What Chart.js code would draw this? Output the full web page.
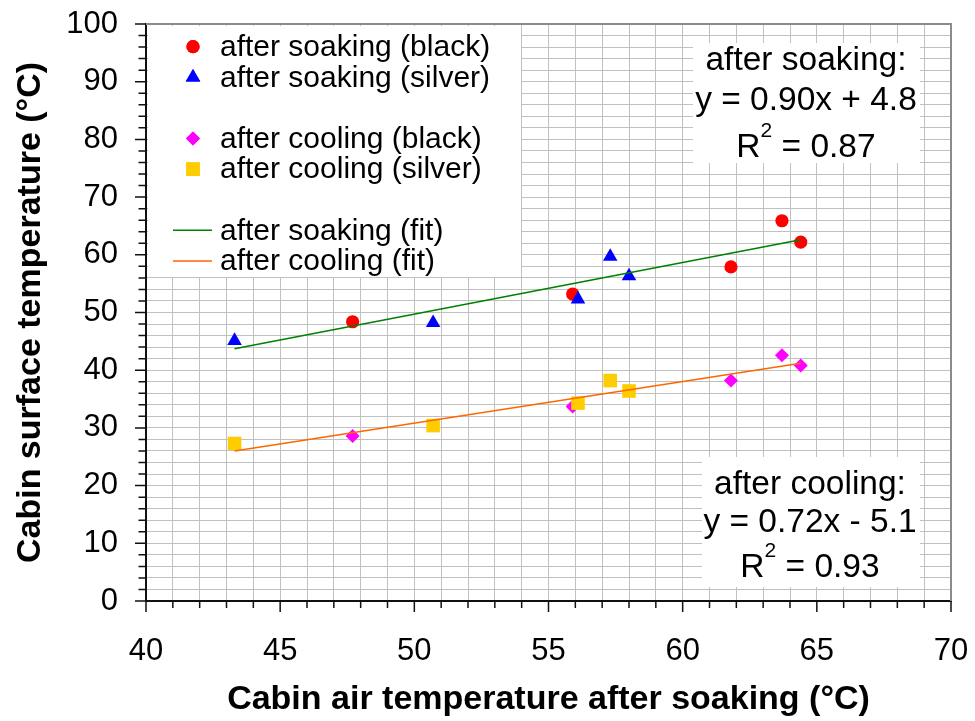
<!DOCTYPE html>
<html>
<head>
<meta charset="utf-8">
<script src="https://cdn.jsdelivr.net/npm/chart.js@4.4.0/dist/chart.umd.min.js"></script>
<style>
  html, body { margin: 0; padding: 0; background: #fff; }
  #wrap { width: 975px; height: 721px; }
</style>
</head>
<body>
<div id="wrap"><canvas id="scatterChart" width="975" height="721"></canvas></div>
<script>
// values
const blackX = [47.7, 55.9, 61.8, 63.7, 64.4];
const soakBlack = [48.4, 53.2, 57.9, 65.9, 62.2];
const coolBlack = [28.6, 33.7, 38.2, 42.6, 40.8];

const silverX = [43.3, 50.7, 56.1, 57.3, 58.0];
const soakSilver = [45.1, 48.2, 52.3, 59.7, 56.3];
const coolSilver = [27.3, 30.4, 34.3, 38.2, 36.4];

// trend line end points
const fitX = [43.3, 64.4];
const soakFit = [43.7, 62.6];
const coolFit = [26.0, 41.2];

const xTicks = [40, 45, 50, 55, 60, 65, 70];
const yTicks = [0, 10, 20, 30, 40, 50, 60, 70, 80, 90, 100];

const seriesLabels = ['after soaking (black)', 'after soaking (silver)', 'after cooling (black)',
    'after cooling (silver)', 'after soaking (fit)', 'after cooling (fit)'];
const soakNote = ['after soaking:', 'y = 0.90x + 4.8', '0.87'];
const coolNote = ['after cooling:', 'y = 0.72x - 5.1', '0.93'];

const FONT = '"Liberation Sans", Arial, sans-serif';

function pts(xs, ys) {
    return xs.map((x, i) => ({ x: x, y: ys[i] }));
}

// white boxes (legend + equations) sit on top of the grid
const boxes = [
    { x: 148, y: 26, w: 373, h: 251 },
    { x: 693, y: 43, w: 227, h: 120 },
    { x: 702, y: 457, w: 218, h: 130 }
];

const overlays = {
    id: 'overlays',
    beforeDatasetsDraw(chart) {
        const ctx = chart.ctx;
        ctx.save();
        ctx.fillStyle = '#fff';
        boxes.forEach(b => ctx.fillRect(b.x, b.y, b.w, b.h));
        ctx.restore();
    },
    afterDraw(chart) {
        const ctx = chart.ctx;
        const area = chart.chartArea;
        const xs = chart.scales.x, ys = chart.scales.y;
        ctx.save();

        // plot area frame on top / right
        ctx.strokeStyle = '#8c8c8c';
        ctx.lineWidth = 2;
        ctx.beginPath();
        ctx.moveTo(area.left, area.top);
        ctx.lineTo(area.right, area.top);
        ctx.lineTo(area.right, area.bottom);
        ctx.stroke();

        // tick marks, major longer than minor
        ctx.strokeStyle = '#111';
        ctx.lineWidth = 1.5;
        ctx.beginPath();
        xs.ticks.forEach(t => {
            const px = xs.getPixelForValue(t.value);
            const len = xTicks.includes(t.value) ? 11 : 7;
            ctx.moveTo(px, area.bottom);
            ctx.lineTo(px, area.bottom + len);
        });
        ys.ticks.forEach(t => {
            const py = ys.getPixelForValue(t.value);
            const len = yTicks.includes(t.value) ? 11 : 7.5;
            ctx.moveTo(area.left, py);
            ctx.lineTo(area.left - len, py);
        });
        ctx.stroke();

        // legend
        const rows = [0, 1, 3, 4, 6, 7];
        ctx.font = '30px ' + FONT;
        ctx.fillStyle = '#000';
        ctx.textBaseline = 'middle';
        ctx.textAlign = 'left';
        chart.data.datasets.forEach((ds, i) => {
            const cy = 46.7 + rows[i] * 30.6;
            if (ds.showLine) {
                ctx.strokeStyle = ds.borderColor;
                ctx.lineWidth = 1.5;
                ctx.beginPath();
                ctx.moveTo(173, cy);
                ctx.lineTo(212, cy);
                ctx.stroke();
            } else {
                ctx.fillStyle = ds.backgroundColor;
                Chart.helpers.drawPoint(ctx, {
                    pointStyle: ds.pointStyle, radius: ds.pointRadius,
                    borderWidth: 0, rotation: 0
                }, 193, cy);
                ctx.fill();
            }
            ctx.fillStyle = '#000';
            ctx.fillText(ds.label, 220, cy + 1);
        });

        // equation notes
        drawNote(ctx, soakNote, 806, [70, 110, 156.5]);
        drawNote(ctx, coolNote, 810, [494, 532, 577]);

        ctx.restore();
    }
};

function drawNote(ctx, lines, cx, baselines) {
    ctx.fillStyle = '#000';
    ctx.textBaseline = 'alphabetic';
    ctx.textAlign = 'center';
    ctx.font = '33.5px ' + FONT;
    ctx.fillText(lines[0], cx, baselines[0]);
    ctx.fillText(lines[1], cx, baselines[1]);
    // R² line with superscript
    ctx.textAlign = 'left';
    const a = 'R', b = ' = ' + lines[2];
    const wa = ctx.measureText(a).width, wb = ctx.measureText(b).width;
    ctx.font = '21px ' + FONT;
    const ws = ctx.measureText('2').width;
    let x = cx - (wa + ws + wb) / 2;
    ctx.font = '33.5px ' + FONT;
    ctx.fillText(a, x, baselines[2]);
    ctx.font = '21px ' + FONT;
    ctx.fillText('2', x + wa, baselines[2] - 20);
    ctx.font = '33.5px ' + FONT;
    ctx.fillText(b, x + wa + ws, baselines[2]);
}

const ctx = document.getElementById('scatterChart').getContext('2d');
new Chart(ctx, {
    type: 'scatter',
    data: {
        datasets: [
            { label: seriesLabels[0], data: pts(blackX, soakBlack), pointStyle: 'circle', pointRadius: 6.6,
              backgroundColor: '#ff0000', borderWidth: 0, order: 6 },
            { label: seriesLabels[1], data: pts(silverX, soakSilver), pointStyle: 'triangle', pointRadius: 8.4,
              backgroundColor: '#0000ff', borderWidth: 0, order: 5 },
            { label: seriesLabels[2], data: pts(blackX, coolBlack), pointStyle: 'rectRot', pointRadius: 7,
              backgroundColor: '#ff00ff', borderWidth: 0, order: 4 },
            { label: seriesLabels[3], data: pts(silverX, coolSilver), pointStyle: 'rect', pointRadius: 9.6,
              backgroundColor: '#ffcc00', borderWidth: 0, order: 3 },
            { label: seriesLabels[4], data: pts(fitX, soakFit), showLine: true, pointRadius: 0,
              borderColor: '#008000', borderWidth: 1.5, order: 2 },
            { label: seriesLabels[5], data: pts(fitX, coolFit), showLine: true, pointRadius: 0,
              borderColor: '#ff6600', borderWidth: 1.5, order: 1 }
        ]
    },
    options: {
        responsive: false,
        animation: false,
        devicePixelRatio: 1,
        layout: { padding: 0 },
        plugins: { legend: { display: false }, tooltip: { enabled: false } },
        scales: {
            x: {
                type: 'linear',
                min: 40, max: 70,
                ticks: {
                    stepSize: 1, autoSkip: false, maxRotation: 0, padding: 32,
                    color: '#000', font: { family: FONT, size: 31 },
                    callback: v => xTicks.includes(v) ? v : ''
                },
                grid: { color: '#c0c0c0', lineWidth: 1, drawTicks: false },
                border: { color: '#111', width: 2 },
                title: {
                    display: true, text: 'Cabin air temperature after soaking (°C)', color: '#000',
                    font: { family: FONT, size: 34, weight: 'bold' }, padding: { top: 0, bottom: 1 }
                },
                afterFit: scale => {
                    scale.height = 120;
                    scale.paddingLeft = 0;
                    scale.paddingRight = 24;
                }
            },
            y: {
                type: 'linear',
                min: 0, max: 100,
                ticks: {
                    stepSize: 2, autoSkip: false, padding: 28,
                    color: '#000', font: { family: FONT, size: 31 },
                    callback: v => yTicks.includes(v) ? v : ''
                },
                grid: { color: '#c0c0c0', lineWidth: 1, drawTicks: false },
                border: { color: '#111', width: 2 },
                title: {
                    display: true, text: 'Cabin surface temperature (°C)', color: '#000',
                    font: { family: FONT, size: 34, weight: 'bold' }, padding: { top: 10, bottom: 0 }
                },
                afterFit: scale => {
                    scale.width = 146;
                    scale.paddingTop = 24;
                    scale.paddingBottom = 0;
                }
            }
        }
    },
    plugins: [overlays]
});
</script>
</body>
</html>
